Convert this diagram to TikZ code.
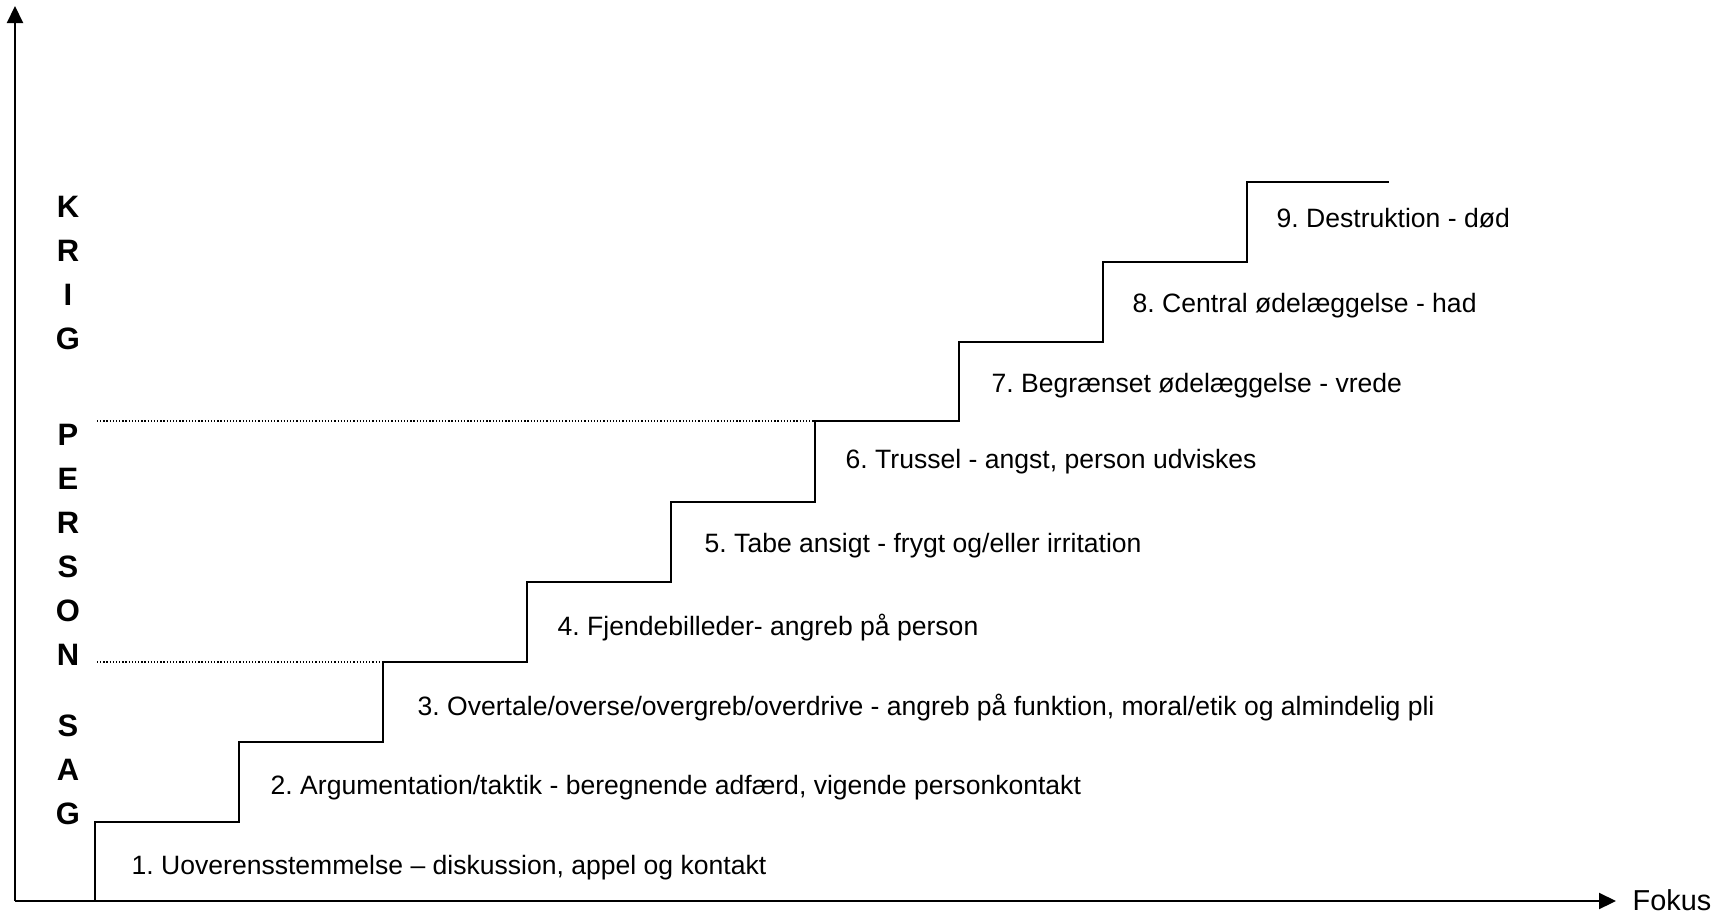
\documentclass[tikz,border=0pt]{standalone}
\usepackage{fontspec}
\setmainfont{Liberation Sans}
\frenchspacing
\usetikzlibrary{arrows.meta, positioning}
\tikzstyle{akse} = [line width=0.6pt, -{Triangle[length=1.7mm, width=1.6mm]}]
\tikzstyle{trappe} = [line width=0.65pt]
\tikzstyle{skillelinje} = [line width=0.4pt, dash pattern=on 0.35pt off 0.55pt]
\tikzstyle{trin} = [anchor=base west, inner sep=0pt, font=\fontsize{7.55}{9}\selectfont]
\tikzstyle{bogstav} = [anchor=base, inner sep=0pt, font=\bfseries\fontsize{8.8}{10}\selectfont]

\begin{document}
\begin{tikzpicture}[x=0.01cm, y=-0.01cm]
	\useasboundingbox (0,0) rectangle (1736,918);
	% akser
	\coordinate (origo) at (15,901);
	\coordinate (ytop) at (15,6);
	\coordinate (xslut) at (1616,901);
	\draw[akse] (origo) -- (ytop);
	\draw[akse] (origo) -- (xslut);
	\node[trin, font=\fontsize{8.2}{9}\selectfont] (fokus) at (1632,910) {Fokus};
	% trappen
	\draw[trappe] (95,901) |- (239,822) |- (383,742) |- (527,662) |- (671,582)
		|- (815,502) |- (959,421) |- (1103,342) |- (1247,262) |- (1389,182);
	\coordinate (sagslut) at (383,662);
	\coordinate (personslut) at (815,421);
	\draw[skillelinje] (97,662) -- (sagslut);
	\draw[skillelinje] (97,421) -- (personslut);
	% trin
	\node[trin] (trin1) at (131,874) {1. Uoverensstemmelse – diskussion, appel og kontakt};
	\node[trin] (trin2) at (270,794) {2. Argumentation/taktik - beregnende adfærd, vigende personkontakt};
	\node[trin] (trin3) at (417,715) {3. Overtale/overse/overgreb/overdrive - angreb på funktion, moral/etik og almindelig pli};
	\node[trin] (trin4) at (557,635) {4. Fjendebilleder- angreb på person};
	\node[trin] (trin5) at (704,552) {5. Tabe ansigt - frygt og/eller irritation};
	\node[trin] (trin6) at (845,468) {6. Trussel - angst, person udviskes};
	\node[trin] (trin7) at (991,392) {7. Begrænset ødelæggelse - vrede};
	\node[trin] (trin8) at (1132,312) {8. Central ødelæggelse - had};
	\node[trin] (trin9) at (1276,227) {9. Destruktion - død};
	% KRIG / PERSON / SAG
	\foreach \b/\y [count=\i] in {K/217, R/261, I/305, G/349, P/445, E/489, R/533, S/577, O/621, N/665, S/736, A/780, G/824}
		\node[bogstav] (bogstav\i) at (68,\y) {\b};
\end{tikzpicture}
\end{document}
